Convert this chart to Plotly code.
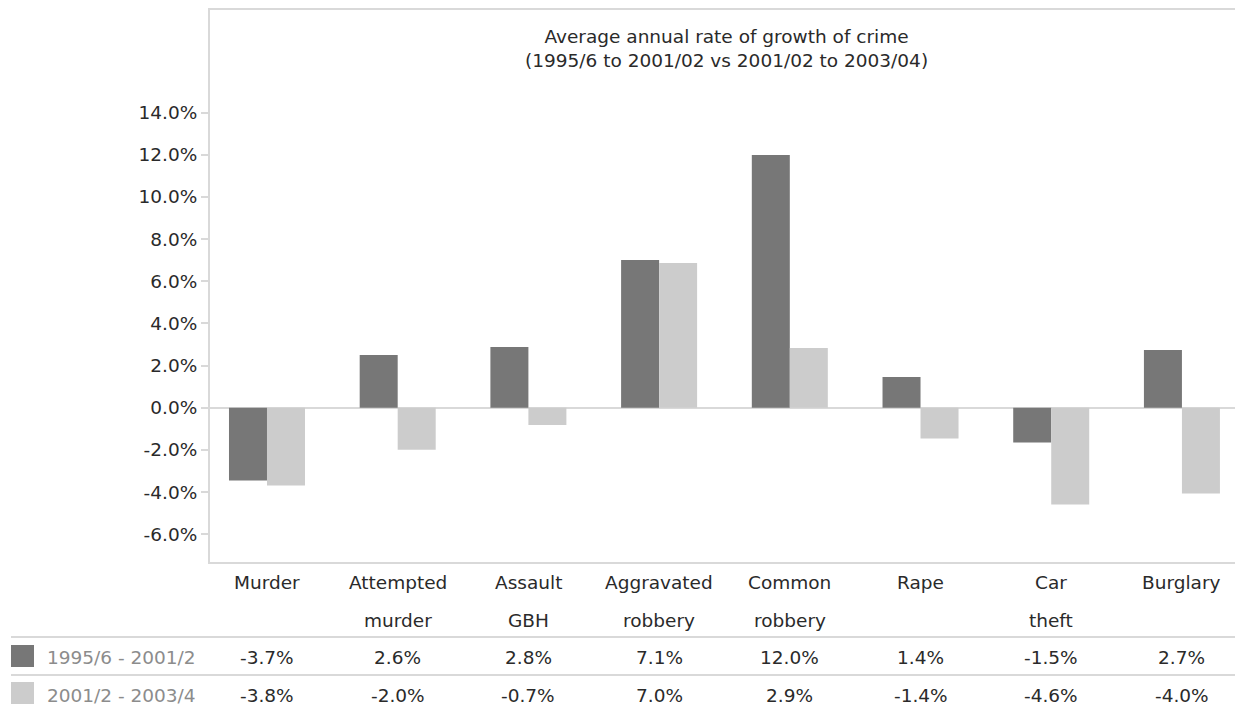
import plotly.graph_objects as go

# categories (two-line labels as printed under the axis)
crime_line1 = ["Murder", "Attempted", "Assault", "Aggravated", "Common", "Rape", "Car", "Burglary"]
crime_line2 = ["", "murder", "GBH", "robbery", "robbery", "", "theft", ""]

series_names = ["1995/6 - 2001/2", "2001/2 - 2003/4"]

# bar heights as drawn (percent)
growth_1995_2001 = [-3.45, 2.50, 2.88, 7.01, 11.99, 1.46, -1.65, 2.74]
growth_2001_2003 = [-3.69, -1.99, -0.82, 6.87, 2.83, -1.46, -4.59, -4.07]

# data table text as printed
table_1995_2001 = ["-3.7%", "2.6%", "2.8%", "7.1%", "12.0%", "1.4%", "-1.5%", "2.7%"]
table_2001_2003 = ["-3.8%", "-2.0%", "-0.7%", "7.0%", "2.9%", "-1.4%", "-4.6%", "-4.0%"]

y_ticks = [-6, -4, -2, 0, 2, 4, 6, 8, 10, 12, 14]

DARK = "#777777"
LIGHT = "#CCCCCC"
GRID = "#D9D9D9"
TEXT = "#2A2A2A"
FONT = "DejaVu Sans"
FS = 18.5

W, H = 1235, 708
PLOT_L, PLOT_T, PLOT_B = 210, 10, 562


def py(pix):
    # window pixel row -> paper y
    return (PLOT_B - pix) / (PLOT_B - PLOT_T)


def px(pix):
    return (pix - PLOT_L) / (W - PLOT_L)


fig = go.Figure()
fig.add_trace(go.Bar(x=crime_line1, y=growth_1995_2001, name=series_names[0],
                     marker=dict(color=DARK, line_width=0)))
fig.add_trace(go.Bar(x=crime_line1, y=growth_2001_2003, name=series_names[1],
                     marker=dict(color=LIGHT, line_width=0)))


def label(text, x, ypix, xref="x", color=TEXT, xanchor="center"):
    return dict(text=text, x=x, xref=xref, yref="paper", y=py(ypix), showarrow=False,
                xanchor=xanchor, yanchor="middle", font=dict(size=FS, color=color))


annotations = [
    label("Average annual rate of growth of crime<br>(1995/6 to 2001/02 vs 2001/02 to 2003/04)",
          px(726), 49, xref="paper"),
]
for i, cat in enumerate(crime_line1):
    annotations.append(label(cat, cat, 582))
    if crime_line2[i]:
        annotations.append(label(crime_line2[i], cat, 620))
    annotations.append(label(table_1995_2001[i], cat, 658))
    annotations.append(label(table_2001_2003[i], cat, 695))

for name, ypix in zip(series_names, [658, 695]):
    annotations.append(label(name, px(45), ypix, xref="paper", color="#8C8C8C", xanchor="left"))

shapes = []
for ypix in [637, 675]:
    shapes.append(dict(type="line", xref="paper", yref="paper", x0=px(11), x1=1,
                       y0=py(ypix), y1=py(ypix), line=dict(color=GRID, width=2)))
for color, (top, bot) in zip([DARK, LIGHT], [(645, 667), (682, 704)]):
    shapes.append(dict(type="rect", xref="paper", yref="paper", x0=px(11), x1=px(34),
                       y0=py(bot), y1=py(top), fillcolor=color, line_width=0))

fig.update_layout(
    width=W, height=H,
    margin=dict(l=PLOT_L, r=0, t=PLOT_T, b=H - PLOT_B, pad=0),
    paper_bgcolor="white", plot_bgcolor="white",
    barmode="group", bargap=0.4185, bargroupgap=0,
    showlegend=False,
    font=dict(family=FONT, size=FS, color=TEXT),
    annotations=annotations, shapes=shapes,
)
fig.update_xaxes(range=[-0.436, 7.406], showticklabels=False, ticks="", showgrid=False,
                 showline=True, linecolor=GRID, linewidth=2, mirror=True, zeroline=False)
fig.update_yaxes(range=[-7.32, 18.87], tickvals=y_ticks,
                 ticktext=[f"{v:.1f}%" for v in y_ticks],
                 ticks="outside", ticklen=7, tickcolor=GRID, tickwidth=2,
                 showgrid=False, showline=True, linecolor=GRID, linewidth=2,
                 zeroline=True, zerolinecolor=GRID, zerolinewidth=2,
                 tickfont=dict(size=FS, color=TEXT))

# drop the default page margin so the figure fills the window exactly
fig.write_html("out.html", config={"displayModeBar": False},
               post_script="document.body.style.margin='0';document.body.style.overflow='hidden';")
